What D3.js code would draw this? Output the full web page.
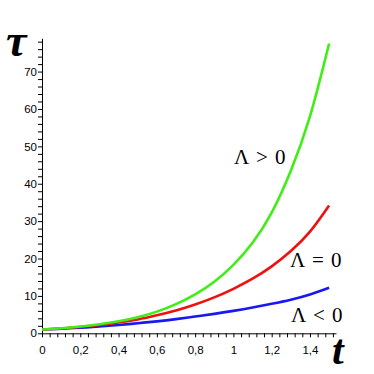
<!DOCTYPE html>
<html><head><meta charset="utf-8">
<script src="https://cdn.jsdelivr.net/npm/d3@7"></script>
<style>body{margin:0;background:#fff}svg{display:block}</style>
</head><body>
<svg id="c" width="374" height="374"></svg>
<script>
const tValues = [0,0.1,0.2,0.3,0.4,0.5,0.6,0.7,0.8,0.9,1.0,1.1,1.2,1.3,1.4,1.5];
const tauPositive = [1.0,1.35,1.8,2.4,3.2,4.3,5.8,7.8,10.4,13.8,18.3,24.2,32.3,43.5,58,77.5];
const tauZero     = [1.0,1.3,1.7,2.2,2.9,3.7,4.8,6.1,7.7,9.6,11.9,14.6,17.9,22.0,27.2,34.2];
const tauNegative = [1.0,1.2,1.5,1.8,2.2,2.7,3.2,3.8,4.5,5.2,6.0,6.9,7.9,9.0,10.4,12.2];
const seriesNames = ["Λ > 0","Λ = 0","Λ < 0"];
const seriesColors = ["#3eee14","#f01010","#1818f0"];
const xTickValues = d3.range(0, 39).map(i => i*0.04);
const yTickValues = d3.range(0, 40).map(i => i*2);

const svg = d3.select("#c");
const x = d3.scaleLinear().domain([0,1.536]).range([42,336]);
const y = d3.scaleLinear().domain([0,78.9]).range([333.3,38.3]);

const fmtX = v => {
  const r = Math.round(v*100)/100;
  if (Math.abs(r*5 - Math.round(r*5)) > 1e-6) return "";
  return String(r).replace(".", ",");
};
const fmtY = v => (Math.round(v) % 10 === 0 ? String(Math.round(v)) : "");

const gx = svg.append("g").attr("transform","translate(0,333.3)")
  .call(d3.axisBottom(x).tickValues(xTickValues).tickFormat(fmtX).tickSize(4).tickSizeOuter(0).tickPadding(9));
const gy = svg.append("g").attr("transform","translate(42,0)")
  .call(d3.axisLeft(y).tickValues(yTickValues).tickFormat(fmtY).tickSize(4).tickSizeOuter(0).tickPadding(1));
[gx,gy].forEach(g => {
  g.selectAll("text").attr("font-family","'Liberation Sans', Arial, sans-serif").attr("font-size","11.5px").attr("fill","#000");
  g.selectAll("line,path").attr("stroke","#000");
});

const data = [tauPositive, tauZero, tauNegative];
const line = d3.line().x((d,i)=>x(tValues[i])).y(d=>y(d)).curve(d3.curveNatural);
[2,1,0].forEach(k => {
  svg.append("path").attr("d", line(data[k])).attr("fill","none")
    .attr("stroke", seriesColors[k]).attr("stroke-width",2.6);
});

const labelPos = [[234,164],[290,266.5],[291,321.5]];
seriesNames.forEach((n,k) => {
  svg.append("text").attr("x",labelPos[k][0]).attr("y",labelPos[k][1])
    .attr("font-family","'Liberation Serif', 'Times New Roman', serif").attr("font-size","21px")
    .attr("word-spacing","2px")
    .text(n);
});

svg.append("text").attr("x",6).attr("y",56).attr("font-family","'Liberation Serif', serif")
  .attr("font-style","italic").attr("font-weight","bold").attr("font-size","46px").text("τ");
svg.append("text").attr("x",332).attr("y",364).attr("font-family","'Liberation Serif', serif")
  .attr("font-style","italic").attr("font-weight","bold").attr("font-size","42px").text("t");
</script>
</body></html>
